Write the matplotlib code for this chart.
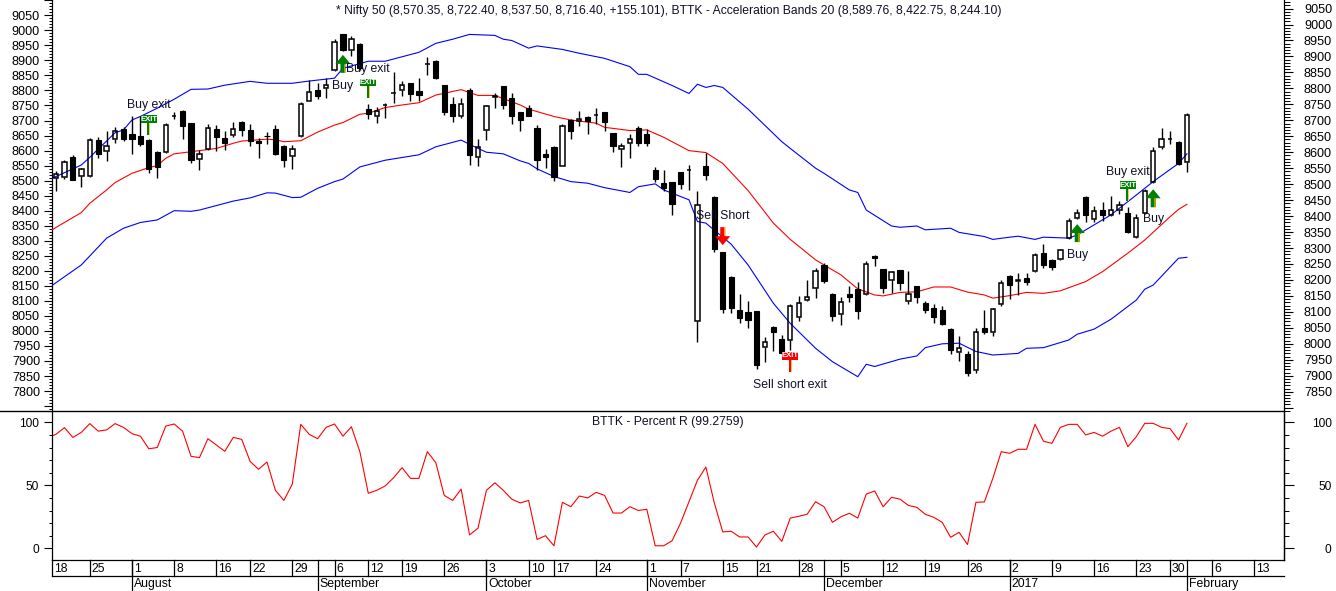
import numpy as np
import matplotlib
matplotlib.use("Agg")
import matplotlib.pyplot as plt
from matplotlib.lines import Line2D
from matplotlib.patches import Polygon, Rectangle
from matplotlib.ticker import FixedLocator, NullFormatter
from matplotlib.transforms import IdentityTransform

plt.rcParams['font.family'] = ['Liberation Sans', 'DejaVu Sans']

# ---------- data ----------
opens = [8519,8522,8584,8526,8525,8637,8603,8643,8672,8656,8650,8637,8601,8602,8714,8729,8692,8578,8610,8672,8644,8653,8696,8669,8635,8651,8673,8619,8587,8650,8761,8794,8800,8857,8970,8919,8939,8735,8713,8748,8785,8794,8816,8792,8876,8886,8811,8751,8712,8795,8584,8669,8774,8808,8770,8726,8738,8676,8595,8617,8558,8702,8697,8710,8716,8725,8659,8609,8628,8676,8656,8545,8503,8506,8537,8544,8070,8557,8460,8288,8209,8105,8099,8102,7991,8052,8014,8011,8083,8136,8174,8246,8155,8093,8155,8171,8155,8274,8233,8199,8230,8133,8180,8127,8111,8105,8046,7974,7968,7917,8049,8036,8124,8213,8198,8206,8227,8284,8262,8267,8332,8393,8459,8392,8418,8405,8420,8409,8334,8410,8506,8615,8640,8631,8570]
highs = [8540,8576,8590,8552,8644,8648,8668,8678,8680,8713,8712,8640,8605,8691,8725,8731,8693,8607,8688,8684,8668,8695,8699,8689,8645,8664,8684,8623,8624,8757,8826,8816,8831,8954,8971,8964,8941,8750,8741,8753,8852,8824,8817,8833,8897,8889,8812,8772,8770,8800,8641,8748,8784,8809,8785,8727,8748,8685,8610,8620,8688,8704,8729,8712,8738,8726,8660,8630,8657,8682,8673,8554,8545,8507,8538,8560,8479,8599,8462,8289,8212,8156,8134,8103,8020,8055,8027,8125,8150,8199,8238,8253,8160,8146,8180,8193,8259,8278,8234,8228,8231,8228,8181,8133,8125,8118,8049,8024,7976,8048,8106,8111,8199,8216,8222,8223,8284,8313,8265,8297,8394,8422,8462,8432,8443,8463,8447,8428,8406,8485,8616,8675,8668,8634,8722]
lows = [8480,8517,8512,8492,8523,8583,8574,8630,8636,8596,8618,8536,8520,8597,8703,8643,8567,8543,8608,8605,8608,8648,8651,8621,8583,8627,8590,8555,8549,8649,8760,8766,8771,8855,8918,8902,8858,8705,8693,8707,8755,8777,8762,8761,8843,8828,8718,8696,8708,8560,8558,8638,8740,8735,8690,8667,8713,8545,8551,8510,8557,8642,8682,8657,8688,8667,8601,8555,8583,8621,8621,8507,8480,8405,8485,8482,8007,8513,8288,8095,8095,8066,8051,7922,7944,7979,7969,7981,8070,8135,8145,8189,8073,8060,8132,8079,8153,8245,8159,8159,8169,8126,8129,8098,8066,8058,7968,7947,7899,7910,8031,8026,8117,8139,8152,8184,8226,8239,8232,8264,8327,8390,8380,8380,8386,8400,8407,8348,8331,8408,8505,8611,8625,8561,8537]
closes = [8533,8569,8513,8547,8637,8593,8619,8668,8643,8643,8627,8549,8555,8684,8715,8683,8577,8596,8675,8649,8630,8674,8671,8635,8630,8650,8596,8577,8611,8750,8790,8777,8812,8944,8920,8954,8863,8721,8730,8749,8786,8812,8781,8780,8877,8834,8727,8712,8750,8592,8616,8744,8775,8748,8715,8701,8714,8577,8586,8524,8682,8665,8703,8699,8717,8696,8621,8619,8641,8629,8630,8517,8488,8439,8502,8545,8434,8529,8297,8109,8113,8082,8076,7935,8005,8038,7970,8118,8129,8146,8227,8198,8088,8132,8148,8104,8249,8268,8176,8224,8189,8155,8146,8107,8085,8062,7982,7988,7910,8036,8038,8108,8190,8185,8199,8194,8277,8248,8240,8293,8384,8409,8405,8415,8405,8420,8436,8350,8393,8478,8605,8643,8641,8564,8716]

upper_bars = [-1,3,4,7,8,9,10,12,14,16,18,20,23,25,28,30,33,34,37,39,43,45,47,49,52,53,54,56,57,60,62,65,68,69,70,73,75,76,77,78,79,82,86,87,90,91,94,95,96,99,100,102,103,106,107,110,111,113,114,116,117,120,121,125,128,130,133,134]
upper_band = [8512,8560,8584,8661,8670,8701,8712,8738,8766,8797,8798,8810,8822,8816,8816,8823,8832,8863,8885,8885,8913,8941,8954,8969,8966,8954,8950,8926,8933,8922,8910,8894,8868,8844,8844,8809,8784,8813,8803,8809,8803,8735,8633,8612,8550,8534,8482,8474,8419,8369,8365,8369,8357,8362,8349,8336,8327,8334,8337,8327,8334,8331,8341,8404,8466,8508,8565,8595]
mid_bars = [-1,3,4,6,7,9,11,12,13,14,17,19,21,22,25,26,27,29,31,33,34,36,37,39,41,43,45,48,50,52,55,56,59,61,64,65,68,70,72,73,75,77,79,82,85,87,90,91,93,95,97,98,100,102,104,106,108,110,111,113,115,117,119,122,124,127,129,132,133,134]
mid_band = [8349,8411,8440,8482,8505,8534,8552,8558,8581,8595,8605,8612,8628,8635,8641,8639,8633,8636,8663,8685,8693,8719,8722,8740,8748,8755,8779,8796,8778,8778,8748,8735,8712,8701,8691,8678,8668,8670,8647,8633,8605,8599,8565,8480,8378,8327,8263,8247,8216,8172,8153,8150,8161,8163,8178,8178,8162,8153,8143,8151,8161,8158,8166,8195,8226,8284,8325,8398,8421,8437]
lower_bars = [-1,3,6,8,10,12,14,16,17,21,23,25,26,28,29,31,33,34,36,39,43,45,48,50,51,53,55,56,57,59,61,63,65,68,69,71,72,75,76,77,80,82,85,87,90,92,95,96,97,100,102,103,105,107,109,111,114,115,117,120,121,123,125,127,128,129,130,133,134]
lower_band = [8173,8247,8331,8362,8380,8388,8417,8415,8419,8447,8457,8473,8472,8458,8459,8487,8508,8516,8554,8575,8592,8617,8638,8612,8600,8595,8573,8565,8548,8524,8508,8503,8489,8474,8492,8501,8482,8451,8383,8378,8312,8247,8127,8064,7986,7944,7897,7936,7929,7952,7962,7988,8000,8002,7976,7965,7970,7986,7988,8012,8030,8046,8077,8117,8137,8171,8184,8268,8271]

percent_r = [88,90.5,95.8,88,92,99,93,94,99,96,91,89,79,80,97,98.7,93,73,72,87,82,77,88,86.5,69,62.7,68.5,46,38,51,98.4,90.5,87,96,98.7,89,96.5,76.7,43.7,46,49.5,56,64,55.5,55.5,76.7,68,42,38,47,10.6,16,46,52,46,39,36,38,7,10,2,36.5,33,41.5,40,44.4,42,28,28,33,30,31,2,2,6,20,37,54,64.5,36,13,13.5,9,9,1,10.6,13.5,5.5,24,25.4,27,37,33,20.6,25,27.8,24,43,45.5,33,40.5,39,34,32.5,27,24.6,20.6,8.7,12.7,3,36.5,36.8,55.5,76.7,75.4,78.6,78.6,98.4,85,83.3,96,98.4,98.4,90,92,89,93,96,80.7,88.6,99.2,99.2,96,95,86,99.28]

date_bars = [-0.47,4,9,14,19,23,28,33,37,41,46,51,56,59,64,70,74,79,83,88,93,98,103,108,113,118,123,128,132,137,142]
date_labels = ['18','25','1','8','16','22','29','6','12','19','26','3','10','17','24','1','7','15','21','28','5','12','19','26','2','9','16','23','30','6','13']
month_bars = [9,31,51,70,91,113,134]
month_labels = ['August','September','October','November','December','2017','February']

text_bars = [11,34,37,79,87,121,127,130]
text_prices = [8748,8808,8862,8401,7871,8278,8539,8390]
text_labels = ['Buy exit','Buy','Buy exit','Sell Short','Sell short exit','Buy','Buy exit','Buy']
buy_bars = [34,121,130]
buy_prices = [8905,8375,8484]
sell_bars = [79]
sell_prices = [8309]
exit_bars = [11,37,127,87]
exit_prices = [8654,8769,8448,7913]
exit_colors = ['#008000','#008000','#008000','#ff0000']

title_main = '* Nifty 50 (8,570.35, 8,722.40, 8,537.50, 8,716.40, +155.101), BTTK - Acceleration Bands 20 (8,589.76, 8,422.75, 8,244.10)'
title_sub = 'BTTK - Percent R (99.2759)'

# ---------- layout ----------
W, H = 1336, 591
L, R, T1, B1, B2 = 52, 1284, 0, 411, 560
def P(px): return px * 0.72
fig = plt.figure(figsize=(W / 100, H / 100), dpi=100, facecolor='white')
def rect(t, b): return [L / W, 1 - b / H, (R - L) / W, (b - t) / H]

ax_l = fig.add_axes(rect(T1, B1))
ax = fig.add_axes(rect(T1, B1))
ax.patch.set_alpha(0)
ax_r = fig.add_axes(rect(B1, B2))

XLIM = (-0.474, 145.5)
for a in (ax, ax_l, ax_r):
    a.set_xlim(*XLIM)
    a.set_xticks([])
    for s in a.spines.values():
        s.set_linewidth(0.9)
ax.set_ylim(7789.6, 9076.8)
ax_l.set_ylim(7733.6, 9100.9)
ax_r.set_ylim(-9.3, 109)

# left labels (own scale)
ax_l.spines[['top', 'right', 'bottom']].set_visible(False)
ax_l.yaxis.set_major_locator(FixedLocator(np.arange(7750, 9101, 50)))
ax_l.yaxis.set_minor_locator(FixedLocator(np.arange(7740, 9101, 10)))
ax_l.set_yticklabels(['' if v == 7750 or v == 9100 else str(v) for v in np.arange(7750, 9101, 50)])
ax_l.tick_params(axis='y', which='major', length=P(8), width=0.8, pad=P(4), labelsize=9.1, direction='out')
ax_l.tick_params(axis='y', which='minor', length=P(3), width=0.7, direction='out')

# right axis
ax.spines[['top', 'left', 'bottom']].set_visible(False)
ax.yaxis.tick_right()
ax.yaxis.set_major_locator(FixedLocator(np.arange(7800, 9051, 50)))
ax.yaxis.set_minor_locator(FixedLocator(np.arange(7790, 9076, 10)))
ax.set_yticklabels(['' if v == 7800 else str(v) for v in np.arange(7800, 9051, 50)])
ax.tick_params(axis='y', which='major', length=P(9), width=0.8, pad=P(11), labelsize=9.1, direction='out')
ax.tick_params(axis='y', which='minor', length=P(6), width=0.7, direction='out')

# percent R axis
ax_r.spines['top'].set_visible(False)
ax_r.yaxis.set_major_locator(FixedLocator([0, 50, 100]))
ax_r.yaxis.set_minor_locator(FixedLocator(np.arange(0, 101, 10)))
ax_r.yaxis.set_minor_formatter(NullFormatter())
ax_r.tick_params(axis='y', which='major', length=P(8), width=0.8, pad=P(5), labelsize=8.6)
ax_r.tick_params(axis='y', which='minor', length=P(3.5), width=0.7)
axr2 = ax_r.twinx()
axr2.set_ylim(ax_r.get_ylim())
axr2.spines[['top', 'left', 'bottom']].set_visible(False)
axr2.spines['right'].set_linewidth(0.9)
axr2.yaxis.set_major_locator(FixedLocator([0, 50, 100]))
axr2.yaxis.set_minor_locator(FixedLocator(np.arange(0, 101, 10)))
axr2.yaxis.set_minor_formatter(NullFormatter())
axr2.tick_params(axis='y', which='major', length=P(9.5), width=0.8, pad=P(38), labelsize=8.6)
axr2.tick_params(axis='y', which='minor', length=P(5), width=0.7)
for t in axr2.get_yticklabels():
    t.set_ha('right')

# ---------- candles ----------
o, h, l, c = map(np.array, (opens, highs, lows, closes))
bars = np.arange(len(o))
top = np.maximum(o, c)
bot = np.minimum(o, c)
up = c >= o
ax.vlines(bars, top, h, color='black', lw=1.0, zorder=3)
ax.vlines(bars, l, bot, color='black', lw=1.0, zorder=3)
ax.bar(bars[~up], (top - bot)[~up], bottom=bot[~up], width=0.62, color='black', edgecolor='black', lw=0.8, zorder=3)
ax.bar(bars[up], (top - bot)[up], bottom=bot[up], width=0.52, facecolor='none', edgecolor='black', lw=1.1, zorder=3)

ax.plot(upper_bars, upper_band, color='#0000ff', lw=0.8, zorder=2)
ax.plot(lower_bars, lower_band, color='#0000ff', lw=0.8, zorder=2)
ax.plot(mid_bars, mid_band, color='#ff0000', lw=0.8, zorder=2)

# ---------- signals ----------
def to_px(i, p):
    return ax.transData.transform((i, p))

for b, p, s in zip(text_bars, text_prices, text_labels):
    ax.text(b, p, s, fontsize=8.8, ha='center', va='center', color='#101028', zorder=8)

def add_arrow(b, p, d, col, shade):
    x, y = to_px(b, p)
    pts = [(x, y), (x + 7.5, y + d * 9), (x + 2.5, y + d * 9), (x + 2.5, y + d * 18),
           (x - 2.5, y + d * 18), (x - 2.5, y + d * 9), (x - 7.5, y + d * 9)]
    ax.add_patch(Polygon(pts, closed=True, facecolor=col, edgecolor='none', transform=IdentityTransform(), zorder=7))
    ax.add_patch(Rectangle((x + 0.8, y + min(d * 9, d * 18)), 1.7, 9, facecolor=shade, edgecolor='none',
                           transform=IdentityTransform(), zorder=7))

for b, p in zip(buy_bars, buy_prices):
    add_arrow(b, p, -1, '#008000', '#a0a000')
for b, p in zip(sell_bars, sell_prices):
    add_arrow(b, p, 1, '#ff0000', '#ffa000')

for b, p, col in zip(exit_bars, exit_prices, exit_colors):
    x, y = to_px(b, p)
    ax.add_patch(Rectangle((x - 1.5, y), 1.8, 12, facecolor=col, edgecolor='none', transform=IdentityTransform(), zorder=7))
    ax.add_patch(Rectangle((x + 0.3, y), 1.2, 12, facecolor='#f0d040', edgecolor='none', transform=IdentityTransform(), zorder=7))
    ax.add_patch(Rectangle((x - 8, y + 12), 16, 7.5, facecolor=col, edgecolor='none', transform=IdentityTransform(), zorder=7))
    ax.text(x, y + 15.7, 'EXIT', color='white', fontsize=5.6, fontweight='bold', ha='center', va='center',
            transform=IdentityTransform(), zorder=8)

# ---------- percent R ----------
ax_r.plot(np.arange(-1, len(percent_r) - 1), percent_r, color='#ff0000', lw=0.8)

# ---------- date rows ----------
line_kw = dict(color='black', lw=0.9, transform=ax_r.get_xaxis_transform(), clip_on=False)
row1 = -16 / (B2 - B1)
row2 = -31 / (B2 - B1)
ax_r.plot([XLIM[0], XLIM[1]], [row1, row1], **line_kw)
for b, s in zip(date_bars, date_labels):
    if b > XLIM[0]:
        ax_r.plot([b, b], [0, row1], **line_kw)
    ax_r.annotate(s, (b, -8.5 / (B2 - B1)), xycoords=ax_r.get_xaxis_transform(), xytext=(P(2), 0),
                  textcoords='offset points', fontsize=8.8, ha='left', va='center')
for b, s in zip(month_bars, month_labels):
    ax_r.plot([b, b], [0, row2], **line_kw)
    ax_r.annotate(s, (b, -24.3 / (B2 - B1)), xycoords=ax_r.get_xaxis_transform(), xytext=(P(2), 0),
                  textcoords='offset points', fontsize=8.8, ha='left', va='center')

# separator and captions
fig.add_artist(Line2D([0, R / W], [1 - B1 / H, 1 - B1 / H], color='black', lw=1.0))
fig.text(668.5 / W, 1 - 10.8 / H, title_main, fontsize=8.78, ha='center', va='center', color='#101028')
fig.text(668 / W, 1 - 421.7 / H, title_sub, fontsize=8.75, ha='center', va='center', color='#101028')

fig.savefig('out.png', dpi=100, facecolor='white')
